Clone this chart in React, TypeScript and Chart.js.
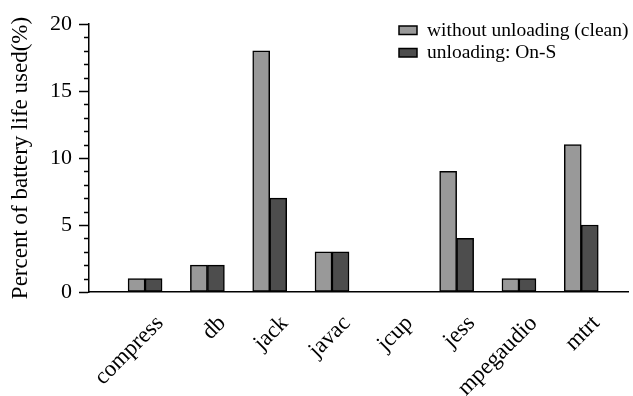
import React, { useEffect, useRef } from 'react';
import { Chart, registerables } from 'chart.js';

Chart.register(...registerables);

const categories = ['compress', 'db', 'jack', 'javac', 'jcup', 'jess', 'mpegaudio', 'mtrt'];
const withoutUnloading = [1, 2, 18, 3, 0, 9, 1, 11];
const unloadingOnS = [1, 2, 7, 3, 0, 4, 1, 5];
const seriesLabels = ['without unloading (clean)', 'unloading: On-S'];
const seriesColors = ['#999999', '#4d4d4d'];
const yTickValues = [0, 5, 10, 15, 20];
const yTitle = 'Percent of battery life used(%)';

const FONT = "'Liberation Serif', 'Times New Roman', serif";

export default function App() {
  const ref = useRef<HTMLCanvasElement>(null);

  useEffect(() => {
    if (!ref.current) return;

    const minorTicks = {
      id: 'minorTicks',
      afterDraw(chart: any) {
        const y = chart.scales.y;
        const ctx = chart.ctx;
        const left = chart.chartArea.left;
        ctx.save();
        ctx.strokeStyle = '#000';
        ctx.lineWidth = 1.5;
        for (let v = y.min; v <= y.max; v++) {
          if (yTickValues.includes(v)) continue;
          const py = Math.round(y.getPixelForValue(v)) + 0.5;
          ctx.beginPath();
          ctx.moveTo(left - 5, py);
          ctx.lineTo(left, py);
          ctx.stroke();
        }
        ctx.restore();
      },
    };

    const customLegend = {
      id: 'customLegend',
      afterDraw(chart: any) {
        const ctx = chart.ctx;
        const bx = chart.chartArea.right - 229;
        const by = 26;
        ctx.save();
        ctx.font = `19.5px ${FONT}`;
        ctx.textBaseline = 'middle';
        ctx.textAlign = 'left';
        seriesLabels.forEach((label, i) => {
          const y = by + i * 22.5;
          ctx.fillStyle = seriesColors[i];
          ctx.fillRect(bx, y, 18, 8.5);
          ctx.strokeStyle = '#000';
          ctx.lineWidth = 1.5;
          ctx.strokeRect(bx, y, 18, 8.5);
          ctx.fillStyle = '#000';
          ctx.fillText(label, bx + 28, y + 4.5);
        });
        ctx.restore();
      },
    };

    const chart = new Chart(ref.current, {
      type: 'bar',
      data: {
        datasets: [
          {
            label: seriesLabels[0],
            data: withoutUnloading.map((v, i) => ({ x: i + 1, y: v })),
            backgroundColor: seriesColors[0],
            borderColor: '#000',
            borderWidth: 1.5,
            borderSkipped: false,
            barThickness: 17,
          },
          {
            label: seriesLabels[1],
            data: unloadingOnS.map((v, i) => ({ x: i + 1, y: v })),
            backgroundColor: seriesColors[1],
            borderColor: '#000',
            borderWidth: 1.5,
            borderSkipped: false,
            barThickness: 17,
          },
        ],
      },
      options: {
        animation: false,
        responsive: false,
        maintainAspectRatio: false,
        layout: { padding: { top: 24, right: 5, left: 0, bottom: 0 } },
        plugins: {
          legend: { display: false },
          tooltip: { enabled: false },
        },
        scales: {
          x: {
            type: 'linear',
            offset: false,
            min: 0.1,
            max: 8.75,
            afterFit: (s: any) => { s.height = 104; },
            afterBuildTicks: (s: any) => { s.ticks = categories.map((_, i) => ({ value: i + 1 })); },
            grid: { display: true, offset: false, drawOnChartArea: false, drawTicks: false },
            border: { display: true, color: '#000', width: 1.5 },
            ticks: {
              autoSkip: false,
              minRotation: 45,
              maxRotation: 45,
              labelOffset: 15,
              padding: 18,
              color: '#000',
              font: { family: FONT, size: 23 },
              callback: (v: any) => categories[Math.round(v) - 1] ?? '',
            },
          },
          y: {
            min: 0,
            max: 20,
            afterFit: (s: any) => { s.width = 89; },
            afterBuildTicks: (s: any) => { s.ticks = yTickValues.map((v) => ({ value: v })); },
            grid: { display: true, drawOnChartArea: false, drawTicks: true, tickLength: 10, tickColor: '#000', tickWidth: 1.5 },
            border: { display: true, color: '#000', width: 1.5 },
            ticks: {
              color: '#000',
              padding: 7,
              font: { family: FONT, size: 22 },
            },
            title: {
              display: true,
              text: yTitle,
              color: '#000',
              padding: { top: 7, bottom: 0 },
              font: { family: FONT, size: 23, weight: 'normal' },
            },
          },
        },
      },
      plugins: [minorTicks, customLegend],
    } as any);

    return () => chart.destroy();
  }, []);

  return (
    <div style={{ position: 'fixed', left: 0, top: 0, width: 633, height: 396, background: '#fff' }}>
      <canvas ref={ref} width={633} height={396} style={{ width: 633, height: 396, display: 'block' }} />
    </div>
  );
}
